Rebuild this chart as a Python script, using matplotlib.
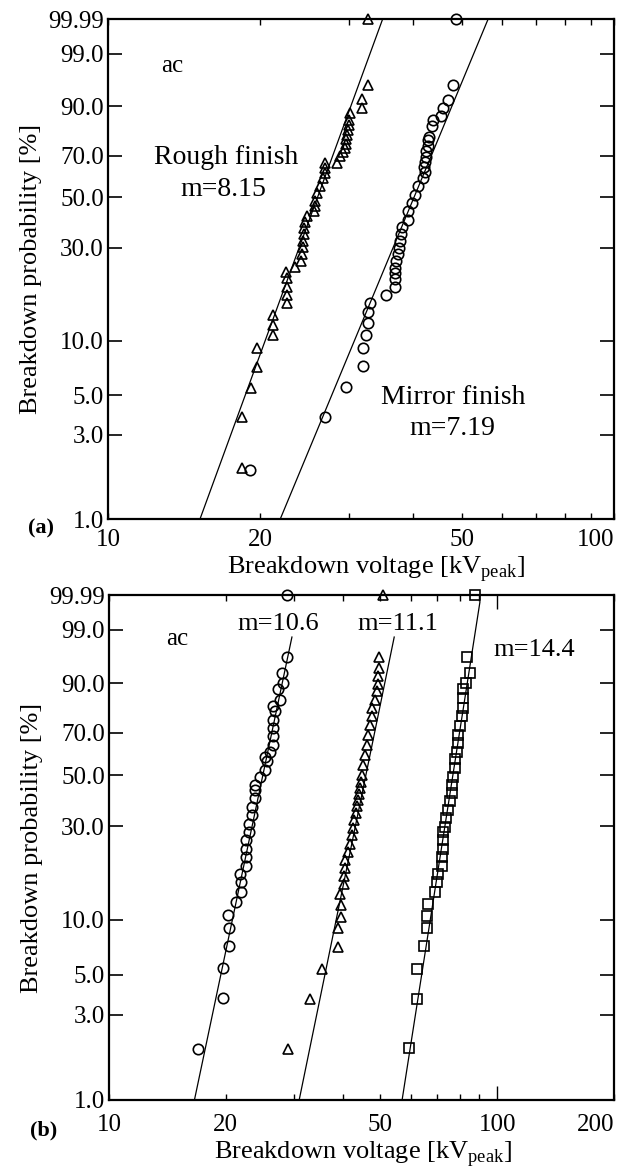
import numpy as np
import matplotlib
matplotlib.use('Agg')
import matplotlib.pyplot as plt
from matplotlib.ticker import FixedLocator, NullLocator, NullFormatter, FixedFormatter

plt.rcParams['font.family'] = ['Liberation Serif', 'DejaVu Serif']
plt.rcParams['mathtext.fontset'] = 'custom'
plt.rcParams['mathtext.rm'] = 'Liberation Serif'

# top edge of the probability paper (labelled 99.99 on the chart)
TOP = 99.93

# ---- panel (a): rough finish (triangles), mirror finish (circles) ----
rough_v = [18.4, 18.4, 19.2, 19.7, 19.7, 21.2, 21.2, 21.2, 22.6, 22.6, 22.6, 22.6,
           22.5, 23.4, 24.1, 24.2, 24.3, 24.3, 24.4, 24.4, 24.5, 24.7, 25.5, 25.6,
           25.7, 25.9, 26.3, 26.6, 26.9, 26.9, 26.9, 28.3, 28.8, 29.2, 29.4, 29.5,
           29.6, 29.7, 29.8, 29.9, 30.0, 30.1, 31.7, 31.7, 32.7, 32.7]
rough_p = [1.94, 3.77, 5.47, 7.15, 9.08, 10.7, 12.1, 13.7, 15.8, 17.5, 19.3, 21.3,
           23.0, 24.3, 25.8, 28.0, 30.2, 32.5, 34.8, 37.0, 39.3, 41.7, 43.8, 46.0,
           48.2, 52.0, 55.1, 59.1, 61.6, 64.0, 66.4, 66.4, 69.6, 71.5, 73.5, 75.5,
           77.5, 79.5, 81.5, 83.5, 85.5, 87.9, 89.5, 92.1, 95.3, TOP]

mirror_v = [19.1, 26.9, 29.6, 31.9, 31.9, 32.4, 32.6, 32.6, 33.0, 35.4, 36.9, 36.9,
            36.9, 36.9, 37.1, 37.4, 37.6, 37.8, 37.9, 38.1, 39.2, 39.2, 39.8, 40.4,
            41.0, 41.9, 42.4, 42.1, 42.3, 42.5, 42.6, 42.8, 42.9, 43.0, 43.6, 43.8,
            45.6, 45.9, 47.0, 48.0, 48.8]
mirror_p = [1.9, 3.77, 5.54, 7.27, 9.08, 10.7, 12.4, 14.3, 15.9, 17.5, 19.3, 21.0,
            22.6, 23.9, 25.8, 27.9, 30.0, 32.5, 35.0, 37.5, 40.3, 43.8, 47.4, 51.2,
            55.1, 59.1, 61.9, 64.5, 67.0, 69.5, 72.0, 74.5, 77.0, 78.6, 82.9, 85.5,
            86.7, 89.5, 91.9, 95.3, TOP]

# fitted lines (end points)
rough_fit_v, rough_fit_p = [15.2, 34.9], [1.0, TOP]
mirror_fit_v, mirror_fit_p = [21.9, 56.4], [1.0, TOP]

# ---- panel (b): three electrodes ----
circ_v = [17.0, 19.7, 19.7, 20.4, 20.4, 20.3, 21.2, 21.9, 21.9, 21.8, 22.6, 22.6,
          22.6, 22.6, 22.9, 22.9, 23.3, 23.3, 23.8, 23.8, 23.8, 24.5, 25.2, 25.5,
          25.2, 26.0, 26.5, 26.4, 26.5, 26.4, 26.8, 26.5, 27.6, 27.3, 28.1, 27.9,
          28.7, 28.7]
circ_p = [1.93, 3.74, 5.49, 7.17, 9.0, 10.6, 12.4, 14.1, 15.8, 17.5, 19.2, 21.2,
          23.4, 25.7, 28.2, 30.8, 33.8, 36.9, 40.1, 43.5, 45.7, 49.4, 52.4, 56.4,
          58.7, 61.1, 64.4, 68.4, 72.3, 76.1, 79.8, 81.8, 84.4, 88.0, 90.1, 92.8,
          96.1, TOP]

tri_v = [29.0, 33.0, 35.3, 38.8, 38.8, 39.5, 39.5, 39.4, 40.2, 40.3, 40.5, 40.5,
         41.4, 41.7, 42.2, 42.5, 42.9, 43.2, 43.5, 43.8, 44.0, 44.3, 44.5, 44.8,
         45.2, 45.7, 46.1, 46.6, 47.0, 47.5, 47.7, 48.4, 48.9, 49.4, 49.4, 49.6,
         49.6, 50.9]
tri_p = [1.93, 3.66, 5.37, 7.08, 8.98, 10.4, 12.0, 13.7, 15.5, 17.1, 18.7, 20.4,
         22.5, 24.7, 27.2, 29.5, 32.0, 34.5, 37.0, 39.5, 42.0, 44.5, 47.0, 50.1,
         54.8, 59.5, 64.4, 69.2, 73.8, 77.6, 81.1, 84.4, 87.4, 89.6, 92.0, 94.0,
         96.0, TOP]

sq_v = [59.4, 62.3, 62.2, 64.9, 66.1, 65.8, 66.5, 69.2, 69.9, 70.5, 71.9, 71.9,
        72.6, 72.6, 72.6, 73.4, 73.8, 74.8, 75.6, 76.4, 76.4, 77.1, 77.9, 77.9,
        78.7, 79.4, 79.4, 80.2, 81.0, 81.5, 81.8, 81.8, 83.1, 85.1, 83.5, 87.7]
sq_p = [1.96, 3.69, 5.42, 7.17, 9.0, 10.5, 12.1, 14.0, 15.8, 17.5, 19.2, 21.2,
        23.4, 25.7, 28.2, 29.8, 32.6, 35.6, 38.9, 42.3, 45.6, 49.4, 53.2, 57.3,
        61.1, 65.1, 69.2, 73.1, 77.6, 81.1, 85.1, 88.0, 90.1, 92.8, 96.1, TOP]

circ_fit_v, circ_fit_p = [16.6, 29.6], [1.0, 98.5]
tri_fit_v, tri_fit_p = [30.9, 54.3], [1.0, 98.5]
sq_fit_v, sq_fit_p = [56.9, 90.3], [1.0, 99.87]

ytick_vals = [1.0, 3.0, 5.0, 10.0, 30.0, 50.0, 70.0, 90.0, 99.0, TOP]
ytick_labels = ['1.0', '3.0', '5.0', '10.0', '30.0', '50.0', '70.0', '90.0', '99.0', '99.99']


def weib(p):
    p = np.clip(np.asarray(p, dtype=float), 1e-6, 99.999999)
    return np.log(-np.log(1.0 - p / 100.0))


def weib_inv(w):
    return 100.0 * (1.0 - np.exp(-np.exp(w)))


def setup(ax, xmax, xmajor, xminor, xpad):
    ax.set_xscale('log')
    ax.set_yscale('function', functions=(weib, weib_inv))
    ax.set_xlim(10, xmax)
    ax.set_ylim(1.0, TOP)
    ax.xaxis.set_major_locator(FixedLocator(xmajor))
    ax.xaxis.set_major_formatter(FixedFormatter([str(v) for v in xmajor]))
    ax.xaxis.set_minor_locator(FixedLocator(xminor))
    ax.xaxis.set_minor_formatter(NullFormatter())
    ax.yaxis.set_major_locator(FixedLocator(ytick_vals))
    ax.yaxis.set_major_formatter(FixedFormatter(ytick_labels))
    ax.yaxis.set_minor_locator(NullLocator())
    ax.tick_params(axis='x', which='both', direction='in', top=True, bottom=True,
                   length=4, width=1.0, labelsize=18, pad=xpad)
    ax.tick_params(axis='y', which='major', direction='in', left=True, right=True,
                   length=10, width=1.2, labelsize=18, pad=3)
    for s in ax.spines.values():
        s.set_linewidth(1.6)
    # last x label sits flush with the right border
    ax.get_xticklabels()[-1].set_horizontalalignment('right')
    ax.set_ylabel('Breakdown probability [%]', fontsize=19)
    ax.set_xlabel(r'Breakdown voltage [kV$_{\mathrm{peak}}$]', fontsize=19)


mk = dict(linestyle='none', mfc='none', mec='black', mew=1.2, clip_on=False, zorder=3)

fig = plt.figure(figsize=(6.26, 11.67), dpi=100)

# panel (a)
ax1 = fig.add_axes([108 / 626, 1 - 519 / 1167, 506 / 626, 500 / 1167])
setup(ax1, 100, [10, 20, 50, 100], [30, 40, 60, 70, 80, 90], 7)
ax1.plot(rough_fit_v, rough_fit_p, color='black', lw=0.9)
ax1.plot(mirror_fit_v, mirror_fit_p, color='black', lw=0.9)
ax1.plot(rough_v, rough_p, marker='^', ms=7.5, **mk)
ax1.plot(mirror_v, mirror_p, marker='o', ms=7.5, **mk)
ax1.text(0.127, 0.905, 'ac', transform=ax1.transAxes, fontsize=18, ha='center', va='center')
ax1.text(0.233, 0.722, 'Rough finish', transform=ax1.transAxes, fontsize=20, ha='center', va='center')
ax1.text(0.228, 0.658, 'm=8.15', transform=ax1.transAxes, fontsize=20, ha='center', va='center')
ax1.text(0.682, 0.244, 'Mirror finish', transform=ax1.transAxes, fontsize=20, ha='center', va='center')
ax1.text(0.680, 0.182, 'm=7.19', transform=ax1.transAxes, fontsize=20, ha='center', va='center')
ax1.yaxis.set_label_coords(-0.13, 0.5)
ax1.xaxis.set_label_coords(0.53, -0.07)

# panel (b)
ax2 = fig.add_axes([109 / 626, 1 - 1100 / 1167, 505 / 626, 505 / 1167])
setup(ax2, 200, [10, 20, 50, 100, 200], [30, 40, 60, 70, 80, 90], 10)
for t in ax2.xaxis.get_major_ticks()[3:4]:
    t.tick1line.set_markersize(10)
    t.tick2line.set_markersize(10)
ax2.plot(circ_fit_v, circ_fit_p, color='black', lw=0.9)
ax2.plot(tri_fit_v, tri_fit_p, color='black', lw=0.9)
ax2.plot(sq_fit_v, sq_fit_p, color='black', lw=0.9)
ax2.plot(circ_v, circ_p, marker='o', ms=7.5, **mk)
ax2.plot(tri_v, tri_p, marker='^', ms=7.5, **mk)
ax2.plot(sq_v, sq_p, marker='s', ms=7, **mk)
ax2.text(0.135, 0.913, 'ac', transform=ax2.transAxes, fontsize=18, ha='center', va='center')
ax2.text(0.335, 0.943, 'm=10.6', transform=ax2.transAxes, fontsize=19, ha='center', va='center')
ax2.text(0.572, 0.943, 'm=11.1', transform=ax2.transAxes, fontsize=19, ha='center', va='center')
ax2.text(0.842, 0.891, 'm=14.4', transform=ax2.transAxes, fontsize=19, ha='center', va='center')
ax2.yaxis.set_label_coords(-0.13, 0.5)
ax2.xaxis.set_label_coords(0.503, -0.077)

fig.text(41 / 626, 1 - 528 / 1167, '(a)', fontsize=16, fontweight='bold', ha='center', va='center')
fig.text(44 / 626, 1 - 1130 / 1167, '(b)', fontsize=16, fontweight='bold', ha='center', va='center')

fig.savefig('out.png', dpi=100)
